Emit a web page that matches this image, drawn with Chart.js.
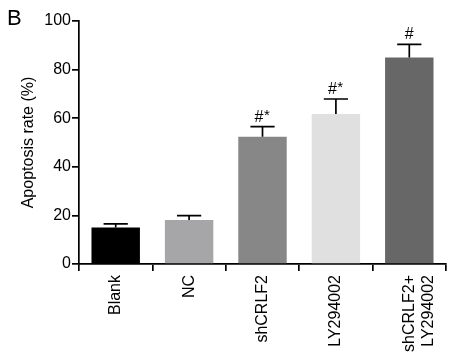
<!DOCTYPE html>
<html>
<head>
<meta charset="utf-8">
<script src="https://cdn.jsdelivr.net/npm/chart.js@4/dist/chart.umd.min.js"></script>
<style>
  html, body { margin: 0; padding: 0; background: #fff; }
  #wrap { width: 459px; height: 362px; position: relative; }
</style>
</head>
<body>
<div id="wrap"><canvas id="chart"></canvas></div>
<script>
const groups = ['Blank', 'NC', 'shCRLF2', 'LY294002', ['shCRLF2+', 'LY294002']];
const rates = [15.0, 18.1, 52.4, 61.7, 85.0];
const errors = [1.5, 1.8, 4.1, 6.2, 5.4];
const marks = ['', '', '#*', '#*', '#'];
const barColors = ['#000000', '#a6a6a8', '#878787', '#e0e0e0', '#676767'];
const yTicks = [0, 20, 40, 60, 80, 100];

const FONT = 'Liberation Sans, Arial, Helvetica, sans-serif';

// upper error bars + significance marks, placed through the scales
const errorBars = {
  id: 'errorBars',
  afterDatasetsDraw(chart) {
    const ctx = chart.ctx;
    const y = chart.scales.y;
    const meta = chart.getDatasetMeta(0);
    ctx.save();
    ctx.strokeStyle = '#000';
    ctx.lineWidth = 1.7;
    meta.data.forEach((bar, i) => {
      const top = y.getPixelForValue(rates[i]);
      const cap = y.getPixelForValue(rates[i] + errors[i]);
      const half = bar.width * 0.25;
      ctx.beginPath();
      ctx.moveTo(bar.x, top);
      ctx.lineTo(bar.x, cap);
      ctx.moveTo(bar.x - half, cap);
      ctx.lineTo(bar.x + half, cap);
      ctx.stroke();
      if (marks[i]) {
        const m = marks[i];
        ctx.fillStyle = '#000';
        ctx.textBaseline = 'alphabetic';
        ctx.font = '16px ' + FONT;
        const hashW = ctx.measureText('#').width;
        const starW = m.length > 1 ? 7 : 0;
        const x0 = bar.x - (hashW + starW) / 2;
        ctx.textAlign = 'left';
        ctx.fillText('#', x0, cap - 5);
        if (m.length > 1) {
          ctx.font = '15px ' + FONT;
          ctx.fillText('*', x0 + hashW + 0.5, cap - 7);
        }
      }
    });
    ctx.restore();
  }
};

const panelLetter = {
  id: 'panelLetter',
  afterDraw(chart) {
    const ctx = chart.ctx;
    ctx.save();
    ctx.fillStyle = '#000';
    ctx.font = '22px ' + FONT;
    ctx.textBaseline = 'top';
    ctx.fillText('B', 7, 8);
    ctx.restore();
  }
};

new Chart(document.getElementById('chart'), {
  type: 'bar',
  data: {
    labels: groups,
    datasets: [{
      data: rates,
      backgroundColor: barColors,
      borderWidth: 0,
      barPercentage: 0.66,
      categoryPercentage: 1.0
    }]
  },
  options: {
    responsive: true,
    maintainAspectRatio: false,
    animation: false,
    layout: { padding: { top: 21, right: 13, left: 0, bottom: 0 } },
    plugins: {
      legend: { display: false },
      tooltip: { enabled: false }
    },
    scales: {
      x: {
        grid: { drawOnChartArea: false, drawTicks: true, tickLength: 7, color: '#000', lineWidth: 1.7 },
        border: { color: '#000', width: 1.7 },
        ticks: {
          color: '#000',
          font: { family: FONT, size: 16 },
          maxRotation: 90,
          minRotation: 90,
          padding: 4
        },
        afterFit(scale) { scale.height = 98; }
      },
      y: {
        min: 0,
        max: 100,
        afterBuildTicks(scale) { scale.ticks = yTicks.map(v => ({ value: v })); },
        grid: { drawOnChartArea: false, drawTicks: true, tickLength: 7, color: '#000', lineWidth: 1.7 },
        border: { color: '#000', width: 1.7 },
        ticks: {
          color: '#000',
          font: { family: FONT, size: 16 },
          padding: 1
        },
        title: {
          display: true,
          text: 'Apoptosis rate (%)',
          color: '#000',
          font: { family: FONT, size: 16 },
          padding: { top: 19, bottom: 0 }
        },
        afterFit(scale) { scale.width = 79; }
      }
    }
  },
  plugins: [errorBars, panelLetter]
});
</script>
</body>
</html>
